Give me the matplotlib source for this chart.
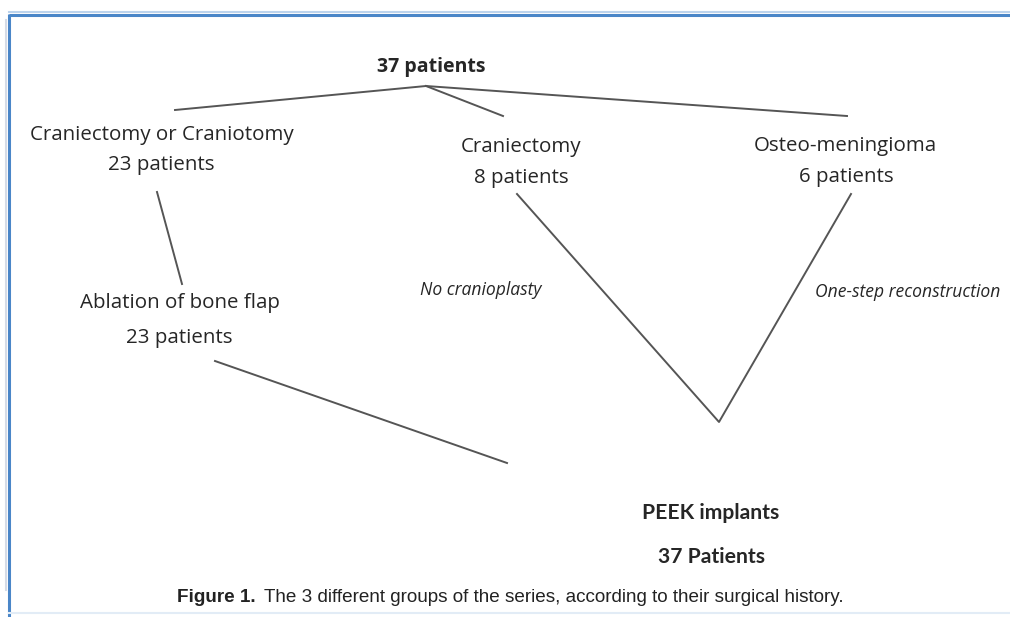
import matplotlib.pyplot as plt

# Diagram content
root_label = "37 patients"
group_names = ["Craniectomy or Craniotomy", "Craniectomy", "Osteo-meningioma"]
group_counts = ["23 patients", "8 patients", "6 patients"]
step_name = "Ablation of bone flap"
step_count = "23 patients"
branch_notes = ["No cranioplasty", "One-step reconstruction"]
final_name = "PEEK implants"
final_count = "37 Patients"
caption_bold = "Figure 1."
caption_text = "The 3 different groups of the series, according to their surgical history."

# layout in pixel coordinates of the reference (y grows downward)
root_pos = (431.5, 72)
group_pos = [(161.5, 140), (521, 152), (845.5, 151)]
count_pos = [(161.5, 170), (521, 183), (846, 182)]
step_pos = (179.5, 308)
step_count_pos = (179, 343)
note_pos = [(480.5, 295), (908, 297)]
final_pos = [(711, 519), (711, 563)]
caption_left, caption_base, caption_right = 177, 602, 846

# widths used to size the fonts
label_width = 263    # "Craniectomy or Craniotomy"
root_width = 109
note_width = 186     # "One-step reconstruction"
final_width = 137    # "PEEK implants"

# connector segments
edges = [
    [(426, 86), (175, 110)],
    [(426, 86), (503, 116)],
    [(426, 86), (847, 116)],
    [(157, 192), (182, 284)],
    [(517, 194), (719, 422), (851, 194)],
    [(215, 361), (507, 463)],
]

FONT = ["Open Sans", "DejaVu Sans"]
LINE_COL = "#555555"
TEXT_COL = "#262626"


def size_for(fig, s, width, **kw):
    """Font size at which text `s` is `width` pixels wide."""
    t = fig.text(0, 0, s, fontsize=10, **kw)
    w = t.get_window_extent(fig.canvas.get_renderer()).width
    t.remove()
    return 10 * width / w


def main():
    fig = plt.figure(figsize=(10.10, 6.17), dpi=100)
    ax = fig.add_axes([0, 0, 1, 1])
    ax.set_xlim(0, 1010)
    ax.set_ylim(617, 0)
    ax.axis("off")

    # frame around the figure
    ax.plot([9, 1010], [12, 12], color="#bcd3ec", lw=1.5)
    ax.plot([9, 1010], [14.5, 14.5], color="#4a86c8", lw=2.2, solid_capstyle="butt")
    ax.plot([9, 9], [14, 617], color="#4a86c8", lw=2.2, solid_capstyle="butt")
    ax.plot([5.5, 5.5], [20, 590], color="#d5dbe6", lw=1.5)
    ax.plot([9, 1010], [613, 613], color="#e2ecf6", lw=1.5)

    for seg in edges:
        xs = [p[0] for p in seg]
        ys = [p[1] for p in seg]
        ax.plot(xs, ys, color=LINE_COL, lw=1.4)

    fs_label = size_for(fig, group_names[0], label_width, family=FONT)
    fs_root = size_for(fig, root_label, root_width, family=FONT, fontweight="bold")
    fs_note = size_for(fig, branch_notes[1], note_width, family=FONT, style="italic")
    bold_font = ["Lato", "DejaVu Sans"]
    fs_final = size_for(fig, final_name, final_width, family=bold_font, fontweight="bold")

    common = dict(ha="center", va="baseline", color=TEXT_COL, family=FONT)

    ax.text(*root_pos, root_label, fontsize=fs_root, fontweight="bold", **common)

    for (gx, gy), (cx, cy), name, cnt in zip(group_pos, count_pos,
                                             group_names, group_counts):
        ax.text(gx, gy, name, fontsize=fs_label, **common)
        ax.text(cx, cy, cnt, fontsize=fs_label, **common)

    ax.text(*step_pos, step_name, fontsize=fs_label, **common)
    ax.text(*step_count_pos, step_count, fontsize=fs_label, **common)

    for (nx, ny), note in zip(note_pos, branch_notes):
        ax.text(nx, ny, note, fontsize=fs_note, style="italic", **common)

    for (fx, fy), s in zip(final_pos, [final_name, final_count]):
        ax.text(fx, fy, s, fontsize=fs_final, fontweight="bold", ha="center",
                va="baseline", color=TEXT_COL, family=bold_font)

    # caption: bold label followed by normal text, sized to reference width
    cap_font = ["Liberation Sans", "DejaVu Sans"]
    t1 = ax.text(caption_left, caption_base, caption_bold, ha="left", va="baseline",
                 fontsize=12, fontweight="bold", family=cap_font, color="#222222")
    t2 = ax.text(0, caption_base, caption_text, ha="left", va="baseline",
                 fontsize=12, family=cap_font, color="#222222")
    renderer = fig.canvas.get_renderer()
    inv = ax.transData.inverted()
    for _ in range(3):
        b1 = t1.get_window_extent(renderer)
        t2.set_x(inv.transform((b1.x1, b1.y0))[0] + 8)
        b2 = t2.get_window_extent(renderer)
        right = inv.transform((b2.x1, b2.y0))[0]
        scale = (caption_right - caption_left) / (right - caption_left)
        t1.set_fontsize(t1.get_fontsize() * scale)
        t2.set_fontsize(t2.get_fontsize() * scale)
    b1 = t1.get_window_extent(renderer)
    t2.set_x(inv.transform((b1.x1, b1.y0))[0] + 8)

    fig.savefig("out.png", dpi=100, facecolor="white")
    plt.close(fig)


if __name__ == "__main__":
    main()
